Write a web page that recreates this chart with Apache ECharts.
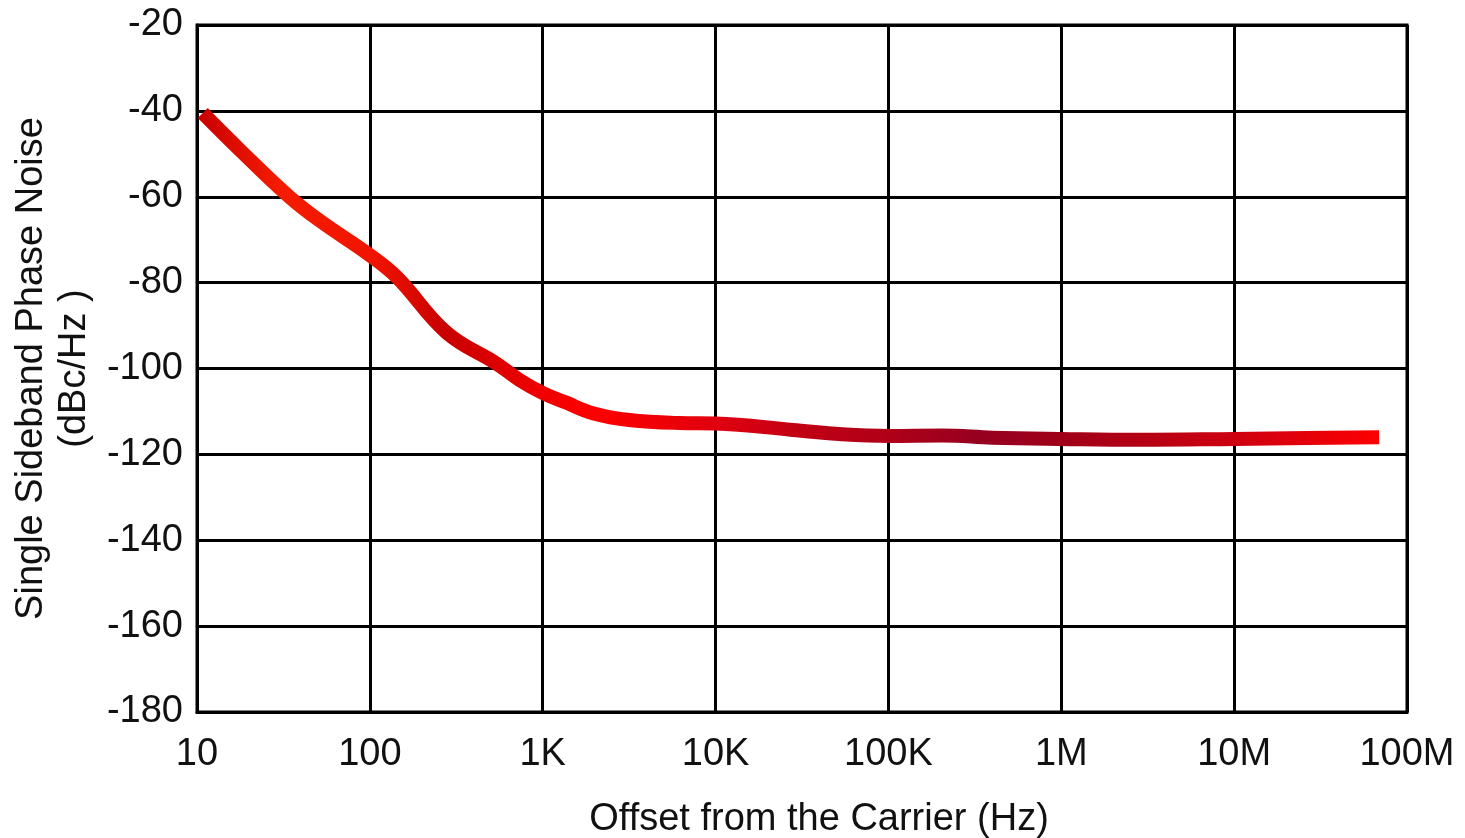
<!DOCTYPE html>
<html>
<head>
<meta charset="utf-8">
<script src="https://cdn.jsdelivr.net/npm/echarts@6/dist/echarts.min.js"></script>
<style>
html,body{margin:0;padding:0;background:#fff;}
#chart{width:1465px;height:838px;}
</style>
</head>
<body>
<div id="chart"></div>
<script>
// Offset frequency (Hz)
var offsetHz = [10.8, 17.7, 34.4, 53.5, 96, 143, 279, 543, 736, 1000, 1377, 1948, 3170, 6200, 10000, 27900, 54000, 100000, 205000, 400000, 1000000, 2800000, 10000000, 26500000, 69000000];
// Single sideband phase noise (dBc/Hz)
var phaseNoise = [-40.5, -49.1, -60.1, -66.1, -73.1, -78.7, -91.7, -98.9, -102.7, -105.7, -108, -110.4, -112, -112.7, -112.8, -114.3, -115.3, -115.7, -115.6, -116.1, -116.4, -116.6, -116.4, -116.2, -116];
// Tick labels
var xTickValues = [10, 100, 1000, 10000, 100000, 1000000, 10000000, 100000000];
var xTickLabels = ['10', '100', '1K', '10K', '100K', '1M', '10M', '100M'];

var FONT = '"Liberation Sans", Arial, Helvetica, sans-serif';

var chart = echarts.init(document.getElementById('chart'), null, {renderer: 'canvas'});
chart.setOption({
  animation: false,
  backgroundColor: '#ffffff',
  grid: {
    left: 197, right: 58, top: 25, bottom: 126,
    show: true, borderColor: '#000', borderWidth: 3, containLabel: false,
    outerBoundsMode: 'none'
  },
  xAxis: {
    type: 'log',
    logBase: 10,
    min: 10,
    max: 100000000,
    name: 'Offset from the Carrier (Hz)',
    nameLocation: 'middle',
    nameGap: 89,
    nameTextStyle: {fontFamily: FONT, fontSize: 38, color: '#111', padding: [0, 0, 0, 34]},
    axisLine: {show: true, lineStyle: {color: '#000', width: 3}},
    axisTick: {show: false},
    minorTick: {show: false},
    splitLine: {show: true, lineStyle: {color: '#000', width: 3}},
    axisLabel: {
      fontFamily: FONT, fontSize: 38, color: '#111', margin: 24,
      formatter: function (v) {
        var i = xTickValues.findIndex(function (t) { return Math.abs(Math.log10(t) - Math.log10(v)) < 1e-6; });
        return i >= 0 ? xTickLabels[i] : '';
      }
    }
  },
  yAxis: {
    type: 'value',
    min: -180,
    max: -20,
    interval: 20,
    name: 'Single Sideband Phase Noise\n(dBc/Hz )',
    nameLocation: 'middle',
    nameGap: 97,
    nameTextStyle: {fontFamily: FONT, fontSize: 38, color: '#111', lineHeight: 43, align: 'center'},
    axisLine: {show: true, lineStyle: {color: '#000', width: 3}},
    axisTick: {show: false},
    splitLine: {show: true, lineStyle: {color: '#000', width: 3}},
    axisLabel: {fontFamily: FONT, fontSize: 38, color: '#111', margin: 14, padding: [5, 0, 0, 0]}
  },
  series: [{
    type: 'line',
    data: offsetHz.map(function (f, i) { return [f, phaseNoise[i]]; }),
    smooth: 0.4,
    showSymbol: false,
    symbol: 'none',
    lineStyle: {
      width: 14,
      cap: 'butt',
      join: 'round',
      color: {
        type: 'linear', x: 0, y: 0, x2: 1, y2: 0,
        colorStops: [
          {offset: 0.00, color: '#c80000'},
          {offset: 0.07, color: '#f41c00'},
          {offset: 0.15, color: '#f01400'},
          {offset: 0.21, color: '#c80000'},
          {offset: 0.27, color: '#e60000'},
          {offset: 0.33, color: '#ff0000'},
          {offset: 0.40, color: '#ec0008'},
          {offset: 0.44, color: '#e00010'},
          {offset: 0.51, color: '#c00014'},
          {offset: 0.58, color: '#b00018'},
          {offset: 0.66, color: '#960020'},
          {offset: 0.73, color: '#a00018'},
          {offset: 0.88, color: '#d00010'},
          {offset: 1.00, color: '#ff0000'}
        ]
      }
    },
    z: 5
  }]
});
</script>
</body>
</html>
